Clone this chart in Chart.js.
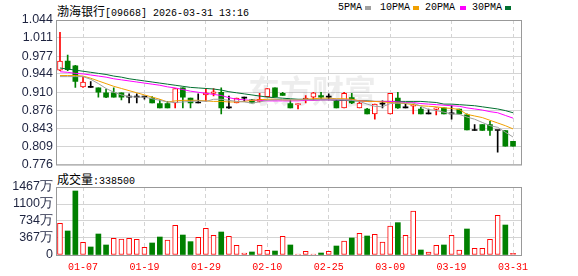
<!DOCTYPE html>
<html>
<head>
<meta charset="utf-8">
<script src="https://cdn.jsdelivr.net/npm/chart.js@4/dist/chart.umd.min.js"></script>
<style>
  body { margin: 0; background: #fff; width: 578px; height: 276px; overflow: hidden; position: relative; }
  canvas { position: absolute; left: 0; }
  #price { top: 0; }
  #volume { top: 175px; }
  .txt { position: absolute; white-space: nowrap; font: 10px "Liberation Mono", monospace; color: #000; line-height: 12px; }
  .cn { font: 12px "Noto Sans CJK SC", sans-serif; }
  .sq { position: absolute; width: 6px; height: 4px; }
</style>
</head>
<body>
<div class="txt" style="left:57px;top:2px"><span class="cn">渤海银行</span>[09668] 2026-03-31 13:16</div>
<div id="legend"></div>
<div class="txt" style="left:57px;top:170px"><span class="cn">成交量</span>:338500</div>
<canvas id="price" width="578" height="175"></canvas>
<canvas id="volume" width="578" height="101"></canvas>
<script>
const dates = [
    '01-02', '01-05', '01-06', '01-07', '01-08', '01-09', '01-12', '01-13', '01-14', '01-15',
    '01-16', '01-19', '01-20', '01-21', '01-22', '01-23', '01-26', '01-27', '01-28', '01-29',
    '01-30', '02-02', '02-03', '02-04', '02-05', '02-06', '02-09', '02-10', '02-11', '02-12',
    '02-13', '02-16', '02-20', '02-23', '02-24', '02-25', '02-26', '02-27', '03-02', '03-03',
    '03-04', '03-05', '03-06', '03-09', '03-10', '03-11', '03-12', '03-13', '03-16', '03-17',
    '03-18', '03-19', '03-20', '03-23', '03-24', '03-25', '03-26', '03-27', '03-30', '03-31'
]
const tickDates = ['01-07', '01-19', '01-29', '02-10', '02-25', '03-09', '03-19', '03-31']
const priceTicks = ['1.044', '1.011', '0.977', '0.944', '0.910', '0.876', '0.843', '0.809', '0.776']
const volumeTicks = [0, 367, 734, 1100, 1467]

const open = [
    0.951, 0.968, 0.959, 0.920, 0.919, 0.918, 0.909, 0.909, 0.909, 0.901,
    0.901, 0.901, 0.899, 0.889, 0.889, 0.890, 0.918, 0.899, 0.890, 0.905,
    0.908, 0.910, 0.881, 0.890, 0.899, 0.896, 0.893, 0.902, 0.918, 0.908,
    0.889, 0.887, 0.896, 0.901, 0.904, 0.901, 0.893, 0.881, 0.900, 0.881,
    0.879, 0.870, 0.888, 0.870, 0.899, 0.881, 0.884, 0.879, 0.870, 0.878,
    0.881, 0.870, 0.879, 0.868, 0.839, 0.850, 0.850, 0.839, 0.839, 0.819
]
const high = [
    1.021, 0.979, 0.960, 0.939, 0.930, 0.918, 0.916, 0.918, 0.909, 0.907,
    0.907, 0.903, 0.902, 0.896, 0.893, 0.917, 0.918, 0.899, 0.907, 0.917,
    0.917, 0.918, 0.903, 0.899, 0.901, 0.897, 0.908, 0.917, 0.918, 0.910,
    0.896, 0.889, 0.904, 0.910, 0.910, 0.907, 0.896, 0.910, 0.908, 0.894,
    0.880, 0.888, 0.894, 0.908, 0.910, 0.888, 0.888, 0.882, 0.879, 0.881,
    0.881, 0.885, 0.879, 0.870, 0.850, 0.850, 0.856, 0.839, 0.839, 0.819
]
const low = [
    0.950, 0.950, 0.919, 0.919, 0.919, 0.901, 0.900, 0.901, 0.896, 0.890,
    0.890, 0.897, 0.890, 0.881, 0.881, 0.881, 0.881, 0.881, 0.890, 0.893,
    0.903, 0.870, 0.880, 0.890, 0.893, 0.890, 0.892, 0.902, 0.902, 0.904,
    0.881, 0.879, 0.890, 0.896, 0.897, 0.897, 0.881, 0.881, 0.889, 0.881,
    0.870, 0.860, 0.881, 0.870, 0.880, 0.881, 0.870, 0.870, 0.870, 0.868,
    0.870, 0.860, 0.870, 0.840, 0.839, 0.839, 0.830, 0.799, 0.810, 0.810
]
const close = [
    0.968, 0.952, 0.930, 0.929, 0.919, 0.910, 0.901, 0.901, 0.901, 0.901,
    0.901, 0.901, 0.890, 0.881, 0.881, 0.917, 0.901, 0.890, 0.890, 0.909,
    0.911, 0.881, 0.881, 0.899, 0.899, 0.890, 0.897, 0.917, 0.902, 0.904,
    0.881, 0.889, 0.899, 0.909, 0.901, 0.901, 0.881, 0.908, 0.890, 0.890,
    0.870, 0.888, 0.888, 0.908, 0.881, 0.881, 0.886, 0.870, 0.870, 0.881,
    0.870, 0.870, 0.870, 0.840, 0.839, 0.839, 0.839, 0.839, 0.810, 0.810
]

const ma5 = [
    0.939, 0.939, 0.939, 0.939, 0.934, 0.926, 0.917, 0.910, 0.905, 0.902,
    0.901, 0.901, 0.898, 0.895, 0.892, 0.891, 0.892, 0.893, 0.894, 0.893,
    0.897, 0.897, 0.895, 0.893, 0.892, 0.890, 0.892, 0.895, 0.896, 0.896,
    0.896, 0.896, 0.896, 0.896, 0.897, 0.897, 0.897, 0.896, 0.895, 0.893,
    0.888, 0.884, 0.883, 0.889, 0.890, 0.890, 0.890, 0.884, 0.878, 0.876,
    0.873, 0.870, 0.869, 0.864, 0.860, 0.854, 0.848, 0.845, 0.836, 0.827
]
const ma10 = [
    0.941, 0.941, 0.941, 0.940, 0.936, 0.931, 0.926, 0.921, 0.917, 0.913,
    0.909, 0.905, 0.901, 0.897, 0.892, 0.894, 0.895, 0.895, 0.895, 0.894,
    0.893, 0.893, 0.892, 0.892, 0.893, 0.895, 0.896, 0.897, 0.897, 0.896,
    0.896, 0.896, 0.897, 0.898, 0.899, 0.899, 0.898, 0.898, 0.897, 0.894,
    0.893, 0.893, 0.892, 0.891, 0.890, 0.889, 0.887, 0.885, 0.884, 0.883,
    0.881, 0.880, 0.878, 0.869, 0.866, 0.863, 0.858, 0.853, 0.848, 0.842
]
const ma20 = [
    0.948, 0.947, 0.945, 0.944, 0.942, 0.940, 0.938, 0.935, 0.933, 0.931,
    0.929, 0.927, 0.925, 0.923, 0.920, 0.918, 0.915, 0.912, 0.910, 0.908,
    0.906, 0.904, 0.900, 0.897, 0.896, 0.895, 0.895, 0.894, 0.894, 0.894,
    0.894, 0.894, 0.895, 0.895, 0.896, 0.896, 0.896, 0.896, 0.896, 0.894,
    0.893, 0.893, 0.893, 0.893, 0.892, 0.891, 0.891, 0.889, 0.888, 0.887,
    0.886, 0.885, 0.884, 0.881, 0.879, 0.877, 0.874, 0.872, 0.867, 0.862
]
const ma30 = [
    0.955, 0.953, 0.951, 0.949, 0.947, 0.945, 0.943, 0.940, 0.938, 0.935,
    0.933, 0.931, 0.929, 0.927, 0.925, 0.923, 0.921, 0.919, 0.918, 0.917,
    0.916, 0.914, 0.911, 0.909, 0.907, 0.905, 0.903, 0.901, 0.900, 0.899,
    0.898, 0.897, 0.897, 0.896, 0.896, 0.896, 0.895, 0.895, 0.894, 0.894,
    0.894, 0.893, 0.893, 0.893, 0.893, 0.893, 0.893, 0.893, 0.892, 0.891,
    0.888, 0.888, 0.887, 0.886, 0.885, 0.883, 0.881, 0.879, 0.876, 0.872
]

// volume in 万 shares, 1 = up day (red hollow), 0 = down day (green)
const volume = [
    683, 518, 1381, 273, 173, 453, 216, 360, 345, 360,
    338, 165, 259, 388, 324, 640, 431, 288, 381, 575,
    424, 496, 403, 209, 43, 65, 209, 101, 86, 403,
    216, 22, 79, 22, 43, 79, 194, 302, 367, 467,
    410, 446, 280, 626, 698, 424, 949, 108, 65, 209,
    216, 424, 108, 561, 144, 144, 338, 856, 647, 34
]
const volumeUp = [
    1, 0, 0, 1, 0, 0, 0, 1, 1, 1,
    1, 1, 0, 0, 1, 1, 0, 0, 1, 1,
    1, 0, 1, 1, 1, 0, 1, 1, 0, 1,
    0, 1, 1, 1, 0, 1, 0, 1, 0, 1,
    0, 1, 1, 1, 0, 1, 1, 0, 1, 1,
    0, 1, 1, 0, 1, 1, 1, 1, 0, 1
]

const maNames = ['5PMA', '10PMA', '20PMA', '30PMA']
const maColors = ['#a0a0a0', '#f0a000', '#ff00ff', '#007030']
const maValues = [ma5, ma10, ma20, ma30]

const RED = '#ff0000'
const GREEN = '#008000'
const GRID = '#d4d4d4'
const FRAME = '#999999'
const AXIS_TEXT = '#1e2440'

// legend in the header
const legendPos = [[338, 365], [380, 413], [425, 460], [472, 505]]
const legend = document.getElementById('legend')
maNames.forEach((name, i) => {
    const t = document.createElement('div')
    t.className = 'txt'
    t.style.left = legendPos[i][0] + 'px'
    t.style.top = '2px'
    t.textContent = name
    legend.appendChild(t)
    const sq = document.createElement('div')
    sq.className = 'sq'
    sq.style.left = legendPos[i][1] + 'px'
    sq.style.top = '6px'
    sq.style.background = maColors[i]
    legend.appendChild(sq)
})

const candleColor = (i) => {
    if (close[i] > open[i]) return RED
    if (close[i] < open[i]) return GREEN
    return '#000000'
}

const framePlugin = {
    id: 'frame',
    afterDraw: (chart) => {
        const { ctx, chartArea: { left, top, right, bottom } } = chart
        ctx.save()
        ctx.strokeStyle = FRAME
        ctx.lineWidth = 1
        ctx.strokeRect(left + 0.5, top + 0.5, right - left - 1, bottom - top)
        ctx.restore()
    }
}

const watermarkPlugin = {
    id: 'watermark',
    beforeDatasetsDraw: (chart) => {
        const { ctx } = chart
        ctx.save()
        ctx.fillStyle = 'rgba(0, 0, 0, 0.07)'
        ctx.font = 'bold 32px "Noto Sans CJK SC"'
        ctx.textAlign = 'center'
        ctx.textBaseline = 'middle'
        ctx.fillText('东方财富', 312, 91)
        ctx.restore()
    }
}

const xScale = (showLabels) => ({
    type: 'linear',
    min: -0.52,
    max: 60.17,
    offset: false,
    afterBuildTicks: (scale) => {
        scale.ticks = tickDates.map(d => ({ value: dates.indexOf(d) }))
    },
    afterFit: (scale) => { scale.height = showLabels ? 21 : 0 },
    ticks: {
        display: showLabels,
        autoSkip: false,
        maxRotation: 0,
        padding: 6,
        color: RED,
        font: { family: 'Liberation Mono', size: 10 },
        callback: (value) => dates[value]
    },
    grid: { color: GRID, drawTicks: false, offset: false },
    border: { display: false, dash: [4, 3] }
})

const idx = dates.map((d, i) => i)

new Chart(document.getElementById('price'), {
    type: 'bar',
    data: {
        datasets: [
            ...maValues.map((vals, k) => ({
                type: 'line',
                label: maNames[k],
                data: vals.map((v, i) => ({ x: i, y: v })),
                borderColor: maColors[k],
                borderWidth: 1,
                pointRadius: 0,
                tension: 0,
                order: 0
            })),
            {
                label: 'body',
                data: idx.map(i => ({ x: i, y: [Math.min(open[i], close[i]), Math.max(open[i], close[i])] })),
                grouped: false,
                barThickness: 5,
                minBarLength: 1,
                borderSkipped: false,
                backgroundColor: (c) => close[c.dataIndex] > open[c.dataIndex] ? '#ffffff' : candleColor(c.dataIndex),
                borderColor: (c) => candleColor(c.dataIndex),
                borderWidth: (c) => close[c.dataIndex] > open[c.dataIndex] ? 1 : 0,
                order: 1
            },
            {
                label: 'wick',
                data: idx.map(i => ({ x: i, y: [low[i], high[i]] })),
                grouped: false,
                barThickness: 1,
                minBarLength: 1,
                backgroundColor: (c) => candleColor(c.dataIndex),
                order: 2
            }
        ]
    },
    options: {
        responsive: false,
        animation: false,
        layout: { padding: { left: 0, top: 20, right: 56, bottom: 10 } },
        plugins: { legend: { display: false }, tooltip: { enabled: false } },
        scales: {
            x: xScale(false),
            y: {
                min: 0.776,
                max: 1.044,
                afterBuildTicks: (scale) => {
                    scale.ticks = priceTicks.map(t => ({ value: parseFloat(t) }))
                },
                afterFit: (scale) => { scale.width = 56 },
                ticks: {
                    autoSkip: false,
                    padding: 3,
                    color: AXIS_TEXT,
                    font: { family: 'Liberation Sans', size: 12.5 },
                    callback: (value) => value.toFixed(3)
                },
                grid: { color: GRID, drawTicks: false },
                border: { color: FRAME }
            }
        }
    },
    plugins: [watermarkPlugin, framePlugin]
})

new Chart(document.getElementById('volume'), {
    type: 'bar',
    data: {
        datasets: [{
            label: 'volume',
            data: volume.map((v, i) => ({ x: i, y: v })),
            grouped: false,
            barThickness: 5,
            borderSkipped: false,
            backgroundColor: (c) => volumeUp[c.dataIndex] ? '#ffffff' : GREEN,
            borderColor: (c) => volumeUp[c.dataIndex] ? RED : GREEN,
            borderWidth: (c) => volumeUp[c.dataIndex] ? 1 : 0
        }]
    },
    options: {
        responsive: false,
        animation: false,
        layout: { padding: { left: 0, top: 12, right: 56, bottom: 0 } },
        plugins: { legend: { display: false }, tooltip: { enabled: false } },
        scales: {
            x: xScale(true),
            y: {
                min: 0,
                max: 1467,
                afterBuildTicks: (scale) => {
                    scale.ticks = volumeTicks.map(v => ({ value: v }))
                },
                afterFit: (scale) => { scale.width = 56 },
                ticks: {
                    autoSkip: false,
                    padding: 3,
                    color: AXIS_TEXT,
                    font: { family: 'Liberation Sans', size: 12.5 },
                    callback: (value) => value === 0 ? '0' : value + '万'
                },
                grid: { color: GRID, drawTicks: false },
                border: { color: FRAME }
            }
        }
    },
    plugins: [framePlugin]
})
</script>
</body>
</html>
